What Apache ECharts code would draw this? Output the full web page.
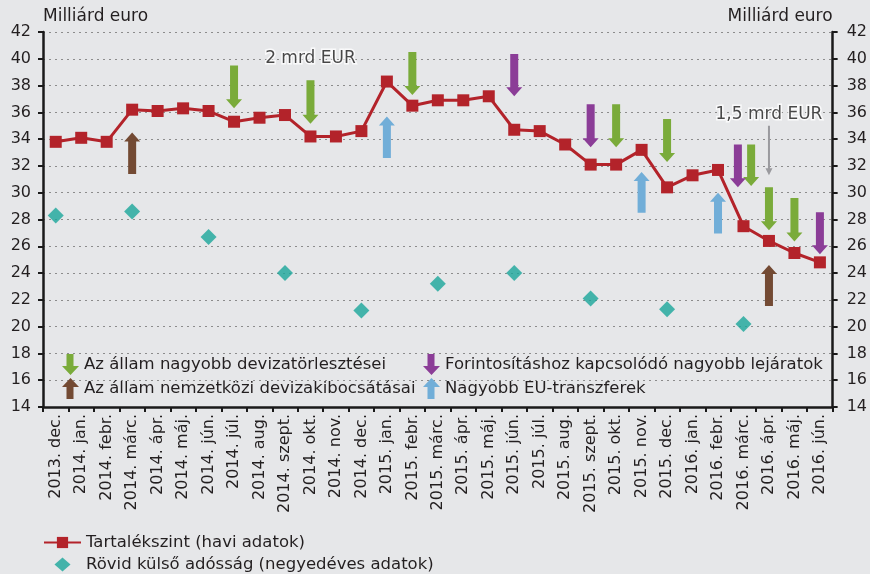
<!DOCTYPE html>
<html>
<head>
<meta charset="utf-8">
<script src="https://cdn.jsdelivr.net/npm/echarts@6/dist/echarts.min.js"></script>
<style>
html,body{margin:0;padding:0;background:#e6e7e9;}
#chart{width:870px;height:574px;}
</style>
</head>
<body>
<div id="chart"></div>
<script>
// ---- data ----
const categories = ['2013. dec.','2014. jan.','2014. febr.','2014. márc.','2014. ápr.','2014. máj.','2014. jún.','2014. júl.','2014. aug.','2014. szept.','2014. okt.','2014. nov.','2014. dec.','2015. jan.','2015. febr.','2015. márc.','2015. ápr.','2015. máj.','2015. jún.','2015. júl.','2015. aug.','2015. szept.','2015. okt.','2015. nov.','2015. dec.','2016. jan.','2016. febr.','2016. márc.','2016. ápr.','2016. máj.','2016. jún.'];
const reserveValues = [33.8,34.1,33.8,36.2,36.1,36.3,36.1,35.3,35.6,35.8,34.2,34.2,34.6,38.3,36.5,36.9,36.9,37.2,34.7,34.6,33.6,32.1,32.1,33.2,30.4,31.3,31.7,27.5,26.4,25.5,24.8];
const debtDates = ['2013. dec.','2014. márc.','2014. jún.','2014. szept.','2014. dec.','2015. márc.','2015. jún.','2015. szept.','2015. dec.','2016. márc.'];
const debtValues = [28.3,28.6,26.7,24.0,21.2,23.2,24.0,22.1,21.3,20.2];
const yTicks = {min:14, max:42, step:2};
// arrows: [category, tail value, tip value]
const greenArrows = [['2014. júl.',39.5,36.3],['2014. okt.',38.4,35.15],['2015. febr.',40.5,37.3],['2015. okt.',36.6,33.4],['2015. dec.',35.5,32.3],['2016. márc.',33.6,30.5],['2016. ápr.',30.4,27.2],['2016. máj.',29.6,26.35]];
const purpleArrows = [['2015. jún.',40.35,37.2],['2015. szept.',36.6,33.4],['2016. márc.',33.6,30.4],['2016. jún.',28.55,25.4]];
const brownArrows = [['2014. márc.',31.4,34.5],['2016. ápr.',21.55,24.6]];
const blueArrows = [['2015. jan.',32.6,35.7],['2015. nov.',28.5,31.55],['2016. febr.',26.95,30.0]];
const grayArrows = [['2016. ápr.',35.0,31.3]];
const notes = [['2014. okt.',40.05,'2 mrd EUR'],['2016. ápr.',35.8,'1,5 mrd EUR']];
const names = {
  reserve:'Tartalékszint (havi adatok)',
  debt:'Rövid külső adósság (negyedéves adatok)',
  green:'Az állam nagyobb devizatörlesztései',
  brown:'Az állam nemzetközi devizakibocsátásai',
  purple:'Forintosításhoz kapcsolódó nagyobb lejáratok',
  blue:'Nagyobb EU-transzferek'
};
// side-by-side nudges (fraction of a category band) for overlapping arrows
const nudgeGreen = {'2016. márc.':0.3};
const nudgePurple = {'2016. márc.':-0.22};

// ---- style ----
const FONT = 'DejaVu Sans';
const TXT = '#231f20';
const C = {red:'#b3232a', teal:'#1aa69a', green:'#7aab3a', purple:'#8b3d97', brown:'#734a33', blue:'#71aed8', gray:'#9a9a9e'};
const ICON_DOWN = 'path://M4.5,0L11.5,0L11.5,12L17,12L8.5,21L0,12L4.5,12Z';
const ICON_UP = 'path://M8.5,0L17,9L11.5,9L11.5,21L4.5,21L4.5,9L0,9Z';
const ICON_DIAMOND = 'path://M0,7L8,0L16,7L8,14Z';

function arrowRenderer(color, data, nudge, shaftW, headW, headH){
  return function(params, api){
    const cat = data[params.dataIndex][0];
    const p1 = api.coord([api.value(0), api.value(1)]);
    const p2 = api.coord([api.value(0), api.value(2)]);
    const band = api.size([1,0])[0];
    const x = p1[0] + (nudge[cat]||0)*band;
    const y1 = p1[1], y2 = p2[1];
    const dir = y2 > y1 ? 1 : -1;
    const base = y2 - dir*headH;
    const pts = [[x-shaftW/2,y1],[x+shaftW/2,y1],[x+shaftW/2,base],[x+headW/2,base],[x,y2],[x-headW/2,base],[x-shaftW/2,base]];
    return {type:'polygon', shape:{points:pts}, style:{fill:color}};
  };
}
function arrowSeries(name, color, data, nudge, sw, hw, hh){
  return {
    type:'custom', name:name, coordinateSystem:'cartesian2d', z:5,
    itemStyle:{color:color},
    renderItem: arrowRenderer(color, data, nudge||{}, sw, hw, hh),
    encode:{x:0, y:[1,2]},
    data:data, silent:true
  };
}

const chart = echarts.init(document.getElementById('chart'), null, {renderer:'canvas'});
const yAxisBase = {
  type:'value', min:yTicks.min, max:yTicks.max, interval:yTicks.step,
  axisLine:{show:true, lineStyle:{color:'#1a1a1a', width:2.5}},
  axisTick:{show:true, length:5, lineStyle:{color:'#1a1a1a', width:2}},
  nameLocation:'end', nameGap:7, name:'Milliárd euro'
};
const legendText = {fontSize:16.5, color:TXT, fontFamily:FONT};
chart.setOption({
  animation:false,
  backgroundColor:'#e6e7e9',
  textStyle:{fontFamily:FONT, color:TXT},
  grid:{left:43, right:36, top:32, bottom:167, containLabel:false},
  xAxis:{
    type:'category', data:categories, boundaryGap:true,
    axisLine:{lineStyle:{color:'#1a1a1a', width:2.5}},
    axisTick:{show:true, length:5, interval:0, lineStyle:{color:'#1a1a1a', width:2}},
    axisLabel:{rotate:90, interval:0, fontSize:16, color:TXT, fontFamily:FONT, margin:7},
    splitLine:{show:false}
  },
  yAxis:[
    Object.assign({}, yAxisBase, {
      position:'left',
      axisLabel:{fontSize:16, color:TXT, fontFamily:FONT, margin:12},
      nameTextStyle:{fontSize:17, color:TXT, fontFamily:FONT, align:'left'},
      splitLine:{show:true, lineStyle:{color:'#8c8c8c', type:[2,4], width:1}}
    }),
    Object.assign({}, yAxisBase, {
      position:'right',
      axisLabel:{fontSize:16, color:TXT, fontFamily:FONT, margin:14},
      nameTextStyle:{fontSize:17, color:TXT, fontFamily:FONT, align:'right'},
      splitLine:{show:false}
    })
  ],
  legend:[
    {
      orient:'vertical', left:62, top:354, padding:0, itemWidth:17, itemHeight:21, itemGap:3,
      selectedMode:false, textStyle:legendText,
      data:[{name:names.green, icon:ICON_DOWN},{name:names.brown, icon:ICON_UP}]
    },
    {
      orient:'vertical', left:423, top:354, padding:0, itemWidth:17, itemHeight:21, itemGap:3,
      selectedMode:false, textStyle:legendText,
      data:[{name:names.purple, icon:ICON_DOWN},{name:names.blue, icon:ICON_UP}]
    },
    {
      orient:'vertical', left:43, top:534, padding:0, itemWidth:37, itemHeight:14, itemGap:5, height:60,
      selectedMode:false, symbolKeepAspect:true,
      textStyle:Object.assign({}, legendText, {lineHeight:16}),
      data:[names.reserve, {name:names.debt, icon:ICON_DIAMOND}]
    }
  ],
  series:[
    {
      type:'line', name:names.reserve, data:reserveValues, z:4,
      symbol:'rect', symbolSize:12,
      lineStyle:{color:C.red, width:3},
      itemStyle:{color:C.red},
      silent:true
    },
    {
      type:'scatter', name:names.debt, z:4,
      data:debtDates.map((d,i)=>[d, debtValues[i]]),
      symbol:'diamond', symbolSize:16,
      itemStyle:{color:C.teal},
      silent:true
    },
    arrowSeries(names.green, C.green, greenArrows, nudgeGreen, 8, 16, 9),
    arrowSeries(names.purple, C.purple, purpleArrows, nudgePurple, 8, 16, 9),
    arrowSeries(names.brown, C.brown, brownArrows, null, 8, 16, 9),
    arrowSeries(names.blue, C.blue, blueArrows, null, 8, 16, 9),
    arrowSeries('gray', C.gray, grayArrows, null, 2, 7, 7),
    {
      type:'scatter', name:'notes', z:6, silent:true,
      data:notes.map(n=>[n[0], n[1], n[2]]),
      symbolSize:1, itemStyle:{color:'rgba(0,0,0,0)'},
      label:{show:true, position:'inside', formatter:p=>p.data[2],
        fontSize:17, fontFamily:FONT, color:'#1a1a1a', textBorderColor:'#ffffff', textBorderWidth:3}
    }
  ]
});
</script>
</body>
</html>
